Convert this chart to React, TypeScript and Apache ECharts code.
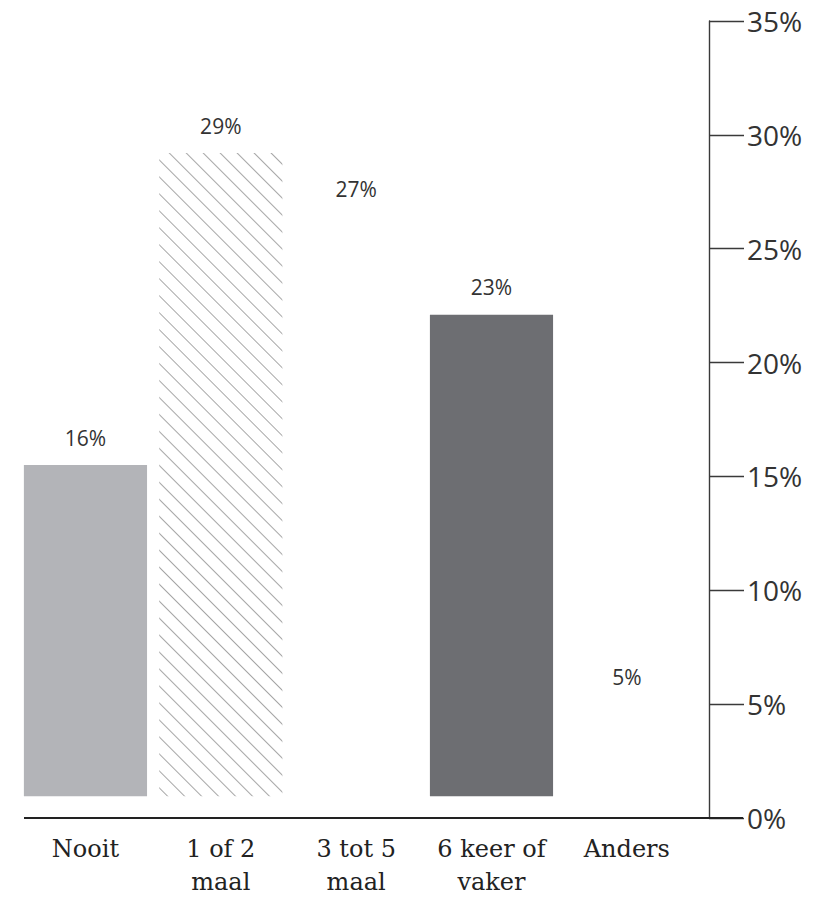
import React, { useEffect, useRef } from "react";
import * as echarts from "echarts";

const categories = ["Nooit", "1 of 2\nmaal", "3 tot 5\nmaal", "6 keer of\nvaker", "Anders"];
const labelValues = [16, 29, 27, 23, 5];
const barBase = 0.95;
const barTops = [15.5, 29.2, 26.4, 22.1, 5.0];
const yMin = 0;
const yMax = 35;
const yInterval = 5;

const hatchDecal = {
  symbol: "rect",
  symbolSize: 1,
  dashArrayX: [1, 0],
  dashArrayY: [0.8, 10.5],
  rotation: Math.PI / 4,
  color: "#a6a6a6",
  backgroundColor: "#ffffff",
};

const barStyles: any[] = [
  { color: "#b3b4b8" },
  { color: "#ffffff", decal: hatchDecal },
  { color: "rgba(0,0,0,0)" },
  { color: "#6d6e72" },
  { color: "rgba(0,0,0,0)" },
];

export default function App() {
  const ref = useRef<HTMLDivElement>(null);
  useEffect(() => {
    if (!ref.current) return;
    const chart = echarts.init(ref.current, undefined, { renderer: "svg" });
    chart.setOption({
      animation: false,
      aria: { enabled: false },
      grid: { left: 17.8, right: 132.5, top: 21, bottom: 78, containLabel: false },
      xAxis: {
        type: "category",
        data: categories,
        axisLine: { show: false },
        axisTick: { show: false },
        axisLabel: {
          interval: 0,
          margin: 14,
          fontFamily: "DejaVu Serif",
          fontSize: 24,
          lineHeight: 33,
          color: "#222",
        },
      },
      yAxis: {
        type: "value",
        position: "right",
        offset: 14.5,
        min: yMin,
        max: yMax,
        interval: yInterval,
        axisLine: { show: true, lineStyle: { color: "#3a3a3a", width: 1.4 } },
        axisTick: { show: true, inside: false, length: 35, lineStyle: { color: "#3a3a3a", width: 1.4 } },
        splitLine: { show: false },
        axisLabel: {
          margin: 38,
          fontFamily: "Open Sans",
          fontSize: 28,
          color: "#333",
          formatter: "{value}%",
        },
      },
      series: [
        {
          type: "bar",
          stack: "a",
          silent: true,
          barCategoryGap: "9%",
          data: barTops.map(() => barBase),
          itemStyle: { color: "rgba(0,0,0,0)" },
        },
        {
          type: "bar",
          stack: "a",
          barCategoryGap: "9%",
          data: barTops.map((t, i) => ({ value: t - barBase, itemStyle: barStyles[i] })),
          label: {
            show: true,
            position: "top",
            distance: 17,
            fontFamily: "Open Sans",
            fontSize: 21,
            color: "#333",
            formatter: (p: any) => labelValues[p.dataIndex] + "%",
          },
        },
      ],
    });
    const y0 = chart.convertToPixel({ yAxisIndex: 0 }, 0) as number;
    chart.setOption({
      graphic: [
        {
          type: "line",
          shape: { x1: 24, y1: y0, x2: 743, y2: y0 },
          style: { stroke: "#222", lineWidth: 1.8 },
          z: 10,
        },
      ],
    });
    return () => chart.dispose();
  }, []);
  return (
    <div
      ref={ref}
      style={{ position: "absolute", left: 0, top: 0, width: 827, height: 898, background: "#fff" }}
    />
  );
}
